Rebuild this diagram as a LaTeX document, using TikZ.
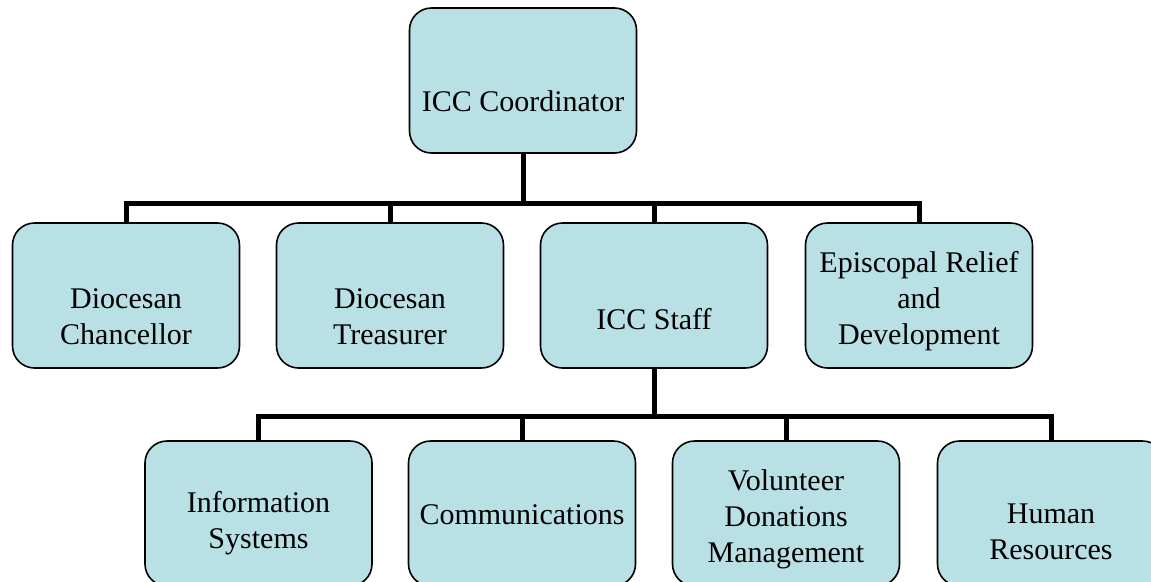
\documentclass[tikz,border=0pt]{standalone}
\usepackage{fontspec}
\setmainfont{Liberation Serif}
\definecolor{boxfill}{RGB}{185,224,228}
\begin{document}
\begin{tikzpicture}[x=1pt,y=-1pt,
  orgbox/.style={draw=black, line width=1.6pt, fill=boxfill, rounded corners=22pt,
    minimum width=227pt, minimum height=145pt, inner sep=0pt},
  orgtext/.style={align=center, inner sep=0pt, font=\fontsize{30}{36}\selectfont},
  link/.style={line width=5pt, line join=miter}]
\useasboundingbox (0,0) rectangle (1151,581);
\clip (0,0) rectangle (1151,581);
% boxes
\node[orgbox] (top) at (523,80.5) {};
\node[orgbox] (c1) at (126,295.5) {};
\node[orgbox] (c2) at (390,295.5) {};
\node[orgbox] (c3) at (654,295.5) {};
\node[orgbox] (c4) at (919,295.5) {};
\node[orgbox] (s1) at (258.5,513.5) {};
\node[orgbox] (s2) at (522,513.5) {};
\node[orgbox] (s3) at (786,513.5) {};
\node[orgbox] (s4) at (1051,513.5) {};
% texts
\node[orgtext] (ttop) at (523,101) {ICC Coordinator};
\node[orgtext] (tc1) at (126,317) {Diocesan\\Chancellor};
\node[orgtext] (tc2) at (390,317) {Diocesan\\Treasurer};
\node[orgtext] (tc3) at (654,319) {ICC Staff};
\node[orgtext] (tc4) at (919,301) {Episcopal Relief\\and\\Development};
\node[orgtext] (ts1) at (258.5,523) {Information\\Systems};
\node[orgtext] (ts2) at (522,515) {Communications};
\node[orgtext] (ts3) at (786,519) {Volunteer\\Donations\\Management};
\node[orgtext] (ts4) at (1051,532) {Human\\Resources};
% connectors
\coordinate (bar1) at (523,203);
\coordinate (bar2) at (654,416);
\foreach \c in {c1,c2,c3,c4}{
  \draw[link] (top.south) -- (bar1) -| (\c.north);
}
\foreach \s in {s1,s2,s3,s4}{
  \draw[link] (c3.south) -- (bar2) -| (\s.north);
}
\end{tikzpicture}
\end{document}
